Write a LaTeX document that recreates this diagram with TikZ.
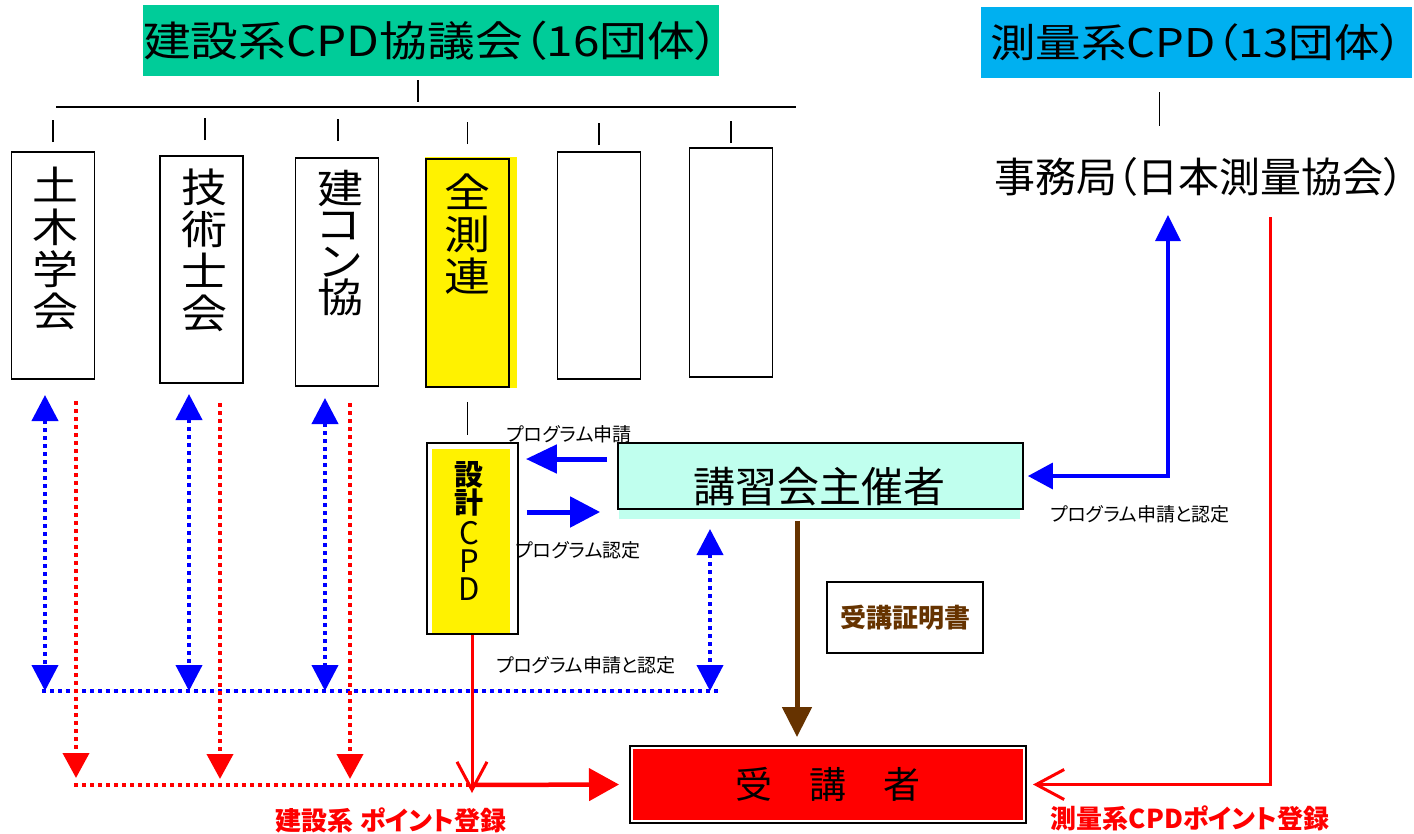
\documentclass[tikz,border=0pt]{standalone}
\usepackage{fontspec}
\newfontfamily\jp[RawFeature=+palt]{Noto Sans CJK JP}
\newfontfamily\jpw[RawFeature=+palt,FakeStretch=1.15]{Noto Sans CJK JP}
\usetikzlibrary{arrows.meta,positioning}
\definecolor{kengreen}{RGB}{0,204,153}
\definecolor{sokblue}{RGB}{0,176,240}
\definecolor{hostcyan}{RGB}{192,255,238}
\definecolor{certbrown}{RGB}{102,51,0}

\begin{document}
\begin{tikzpicture}[x=1pt,y=-1pt]
	\tikzstyle{orgbox} = [rectangle, draw, line width=1.8pt, minimum width=83pt, inner sep=0pt]
	\tikzstyle{vtext} = [align=center, inner sep=0pt, font=\jpw\fontsize{40}{42}\selectfont]
	\tikzstyle{tick} = [line width=1.6pt]
	\tikzstyle{bluedot} = [draw=blue, line width=4pt, dash pattern=on 4pt off 4pt]
	\tikzstyle{reddot} = [draw=red, line width=4pt, dash pattern=on 4pt off 4pt]
	\tikzstyle{smalllabel} = [inner sep=0pt, font=\jp\fontsize{19}{22}\selectfont]
	\tikzstyle{redlabel} = [inner sep=0pt, text=red, font=\jp\bfseries\fontsize{26}{30}\selectfont]
	\useasboundingbox (0,0) rectangle (1414,833);

	\node[fill=kengreen, minimum width=576pt, minimum height=71pt, inner sep=0pt, font=\jpw\fontsize{41.5}{48}\selectfont] (kenkyo) at (431,40.5) {建設系CPD協議会（16団体）};
	\node[fill=sokblue, minimum width=431pt, minimum height=71pt, inner sep=0pt, font=\jpw\fontsize{39.5}{44}\selectfont] (sokkyo) at (1196.5,42.5) {測量系CPD（13団体）};
	\node[inner sep=0pt, font=\jp\fontsize{41}{48}\selectfont] (jimu) at (1199,177) {事務局（日本測量協会）};

	\coordinate (kentop) at (418,80);
	\coordinate (busL) at (56,107);
	\coordinate (busR) at (796,107);
	\draw[tick] (kentop) -- ++(0,22);
	\draw[tick] (busL) -- (busR);
	\draw[tick] ([xshift=-37pt,yshift=-14pt]sokkyo.south) -- ++(0,34);

	\node[orgbox, minimum height=227pt] (JSCE) at (53,265.5) {};
	\node[orgbox, minimum height=227pt] (PEJ) at (201.5,269.5) {};
	\node[orgbox, minimum height=228pt] (NCCA) at (337,272) {};
	\fill[yellow] (425,157) rectangle (517,388);
	\node[orgbox, minimum height=228pt, fill=yellow] (ZSR) at (467.5,273) {};
	\node[orgbox, minimum height=227pt] (EMPTYA) at (599,265.5) {};
	\node[orgbox, minimum height=229pt] (EMPTYB) at (731,262.5) {};

	\node[vtext] (JSCEtext) at (55,248) {土\\木\\学\\会};
	\node[vtext] (PEJtext) at (204,250) {技\\術\\士\\会};
	\node[vtext, font=\jpw\fontsize{40}{36.5}\selectfont] (NCCAtext) at (340,243) {建\\コ\\ン\\協};
	\node[vtext] (ZSRtext) at (467,234) {全\\測\\連};

	\draw[tick] ([yshift=9pt]JSCE.north) -- ([yshift=31pt]JSCE.north);
	\draw[tick] ([xshift=3.5pt,yshift=15pt]PEJ.north) -- ([xshift=3.5pt,yshift=37pt]PEJ.north);
	\draw[tick] ([xshift=1pt,yshift=16pt]NCCA.north) -- ([xshift=1pt,yshift=38pt]NCCA.north);
	\draw[tick] ([yshift=14pt]ZSR.north) -- ([yshift=36pt]ZSR.north);
	\draw[tick] ([yshift=6pt]EMPTYA.north) -- ([yshift=28pt]EMPTYA.north);
	\draw[tick] ([yshift=4pt]EMPTYB.north) -- ([yshift=26pt]EMPTYB.north);

	\node[draw, line width=1.8pt, fill=white, minimum width=91pt, minimum height=191pt, inner sep=0pt] (sekkei) at (472.5,538.5) {};
	\fill[yellow] (432,449) rectangle (510,633);
	\node[align=center, inner sep=0pt, font=\jp\fontsize{31}{28}\selectfont] (sekkeitext) at (469,531) {{\bfseries\fontsize{29}{28}\selectfont 設}\\{\bfseries\fontsize{29}{28}\selectfont 計}\\[3pt]C\\P\\D};
	\draw[tick] ([yshift=-14pt]ZSR.south) -- ([yshift=7pt]ZSR.south |- sekkei.north);

	\fill[hostcyan] (619,447) rectangle (1020,519);
	\node[draw, line width=1.8pt, fill=hostcyan, minimum width=405pt, minimum height=66pt, inner sep=0pt] (host) at (820.5,476) {};
	\node[inner sep=0pt, font=\jp\fontsize{42}{48}\selectfont] (hosttext) at (819,487) {講習会主催者};

	\node[draw, line width=1.8pt, minimum width=156pt, minimum height=71pt, inner sep=0pt, text=certbrown, font=\jp\bfseries\fontsize{26}{30}\selectfont] (cert) at (905,617.5) {受講証明書};

	\node[draw, line width=2pt, fill=red, minimum width=396pt, minimum height=77pt, inner sep=0pt, font=\jp\fontsize{37}{44}\selectfont] (jukou) at (828,784.5) {受　講　者};
	\draw[white, line width=1.2pt] ([shift={(3pt,-3pt)}]jukou.north west) rectangle ([shift={(-3pt,3pt)}]jukou.south east);

	\draw[blue, line width=5pt, -{Triangle[length=31pt,width=28pt]}] ([shift={(-10pt,17pt)}]host.west) -- ([shift={(7pt,17pt)}]sekkei.east |- host.west);
	\draw[blue, line width=5pt, -{Triangle[length=30pt,width=30pt]}] ([shift={(8pt,-36pt)}]sekkei.east |- host.west) -- ([shift={(-17pt,-36pt)}]host.west);
	\node[smalllabel] (reqlabel) at (569,434) {プログラム申請};
	\node[smalllabel] (certlabel) at (578,550) {プログラム認定};

	\coordinate (jimuarr) at (1168,215);
	\draw[blue, line width=3.5pt, {Triangle[length=26pt,width=25pt]}-{Triangle[length=25pt,width=26pt]}] (jimuarr) |- ([xshift=4pt]host.east);
	\node[smalllabel] (sokulabel) at (1140,514) {プログラム申請と認定};

	\coordinate (pbusL) at (42,691);
	\coordinate (pbusR) at (720,691);
	\coordinate (up1) at (45,395);
	\coordinate (up2) at (189,394);
	\coordinate (up3) at (325,398);
	\coordinate (up4) at (710,529);
	\draw[bluedot] (pbusL) -- (pbusR);
	\draw[bluedot, {Triangle[length=26pt,width=26pt]}-{Triangle[length=26pt,width=26pt]}] (up1) -- (up1 |- pbusL);
	\draw[bluedot, {Triangle[length=26pt,width=26pt]}-{Triangle[length=26pt,width=26pt]}] (up2) -- (up2 |- pbusL);
	\draw[bluedot, {Triangle[length=26pt,width=26pt]}-{Triangle[length=26pt,width=26pt]}] (up3) -- (up3 |- pbusL);
	\draw[bluedot, {Triangle[length=26pt,width=26pt]}-{Triangle[length=26pt,width=26pt]}] (up4) -- (up4 |- pbusL);
	\node[smalllabel] (kenlabel) at (586,665) {プログラム申請と認定};

	\coordinate (rbusL) at (74,785);
	\coordinate (rcross) at (472,785);
	\coordinate (dn1) at (76,401);
	\coordinate (dn2) at (220,403);
	\coordinate (dn3) at (350,403);
	\draw[reddot] (rbusL) -- (rcross);
	\draw[reddot, -{Triangle[length=25pt,width=26pt]}] (dn1) -- ([yshift=7pt]dn1 |- rbusL);
	\draw[reddot, -{Triangle[length=25pt,width=26pt]}] (dn2) -- ([yshift=6pt]dn2 |- rbusL);
	\draw[reddot, -{Triangle[length=25pt,width=26pt]}] (dn3) -- ([yshift=6pt]dn3 |- rbusL);
	\draw[red, line width=3pt, -{Straight Barb[length=28pt,width=30pt]}] (sekkei.south -| rcross) -- ([yshift=-8pt]rcross);
	\draw[red, line width=4.5pt, -{Triangle[length=30pt,width=32pt]}] (rcross) -- ([xshift=-10pt]jukou.west);
	\node[redlabel] (kenpoint) at (391,820) {建設系 ポイント登録};

	\draw[certbrown, line width=5pt, -{Triangle[length=30pt,width=29pt]}] ([xshift=-23.5pt,yshift=-11pt]host.south) -- ([xshift=-31pt,yshift=8pt]jukou.north);

	\coordinate (sokred) at (1270,217);
	\draw[red, line width=3pt, -{Straight Barb[length=28pt,width=30pt]}] (sokred) |- ([xshift=6pt]jukou.east);
	\node[redlabel] (sokpoint) at (1190,818) {測量系CPDポイント登録};
\end{tikzpicture}
\end{document}
